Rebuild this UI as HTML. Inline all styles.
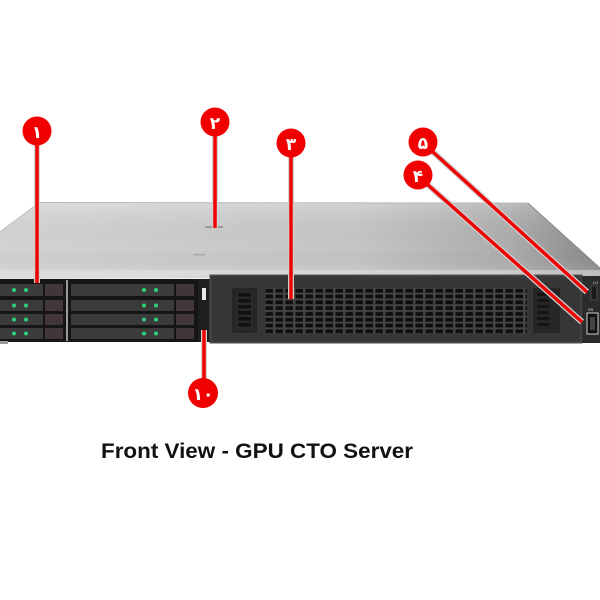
<!DOCTYPE html>
<html><head><meta charset="utf-8"><style>
html,body{margin:0;padding:0;background:#fff;}
svg{display:block;}
</style></head><body>
<svg width="600" height="600" viewBox="0 0 600 600" xmlns="http://www.w3.org/2000/svg">
<defs>
<linearGradient id="top" x1="0" y1="0" x2="1" y2="0">
<stop offset="0" stop-color="#dadada"/>
<stop offset="0.6" stop-color="#cbcbcb"/>
<stop offset="0.85" stop-color="#b2b2b2"/>
<stop offset="1" stop-color="#8e8e8e"/>
</linearGradient>
<linearGradient id="topv" x1="0" y1="0" x2="0" y2="1">
<stop offset="0" stop-color="#fff" stop-opacity="0.15"/>
<stop offset="0.6" stop-color="#000" stop-opacity="0.03"/>
<stop offset="1" stop-color="#fff" stop-opacity="0.2"/>
</linearGradient>
<pattern id="vent" x="265" y="288" width="10" height="5.8" patternUnits="userSpaceOnUse">
<rect x="0" y="0" width="10" height="5.8" fill="#444"/>
<rect x="0.5" y="0.8" width="7.5" height="3.8" fill="#0f0f0f"/>
</pattern>
<pattern id="slat" x="236" y="292" width="20" height="6" patternUnits="userSpaceOnUse">
<rect x="0" y="0" width="20" height="6" fill="#2a2a2a"/>
<rect x="2" y="1" width="13" height="3.5" fill="#111"/>
</pattern>
</defs>

<!-- top surface -->
<polygon points="40,202 528,203 600,268 600,277 0,279 0,232" fill="url(#top)"/>
<polygon points="40,202 528,203 600,268 600,277 0,279 0,232" fill="url(#topv)"/>
<line x1="0" y1="232" x2="40" y2="202" stroke="#bdbdbd" stroke-width="1"/>
<line x1="40" y1="202.5" x2="528" y2="203" stroke="#b8b8b8" stroke-width="1"/>
<line x1="528" y1="203" x2="600" y2="268" stroke="#8a8a8a" stroke-width="1"/>
<rect x="0" y="270" width="600" height="6" fill="#e2e2e2" opacity="0.5"/>
<rect x="205" y="226" width="18" height="2" fill="#9a9a9a"/>
<rect x="193" y="254" width="12" height="1.5" fill="#aaa"/>

<!-- drive bay area -->
<rect x="0" y="279" width="198" height="63" fill="#151515"/>
<g fill="#3b3b3b">
<rect x="0" y="284" width="43" height="12"/>
<rect x="0" y="300" width="43" height="11"/>
<rect x="0" y="314" width="43" height="11"/>
<rect x="0" y="328" width="43" height="11"/>
<rect x="71" y="284" width="103" height="12"/>
<rect x="71" y="300" width="103" height="11"/>
<rect x="71" y="314" width="103" height="11"/>
<rect x="71" y="328" width="103" height="11"/>
</g>
<g fill="#433638">
<rect x="45" y="284" width="18" height="12"/>
<rect x="45" y="300" width="18" height="11"/>
<rect x="45" y="314" width="18" height="11"/>
<rect x="45" y="328" width="18" height="11"/>
<rect x="176" y="284" width="18" height="12"/>
<rect x="176" y="300" width="18" height="11"/>
<rect x="176" y="314" width="18" height="11"/>
<rect x="176" y="328" width="18" height="11"/>
</g>
<rect x="66" y="280" width="2" height="61" fill="#9a9a9a"/>
<g fill="#2fd07a">
<circle cx="14" cy="290" r="2"/><circle cx="26" cy="290" r="2"/>
<circle cx="14" cy="305.5" r="2"/><circle cx="26" cy="305.5" r="2"/>
<circle cx="14" cy="319.5" r="2"/><circle cx="26" cy="319.5" r="2"/>
<circle cx="14" cy="333.5" r="2"/><circle cx="26" cy="333.5" r="2"/>
<circle cx="144" cy="290" r="2"/><circle cx="156" cy="290" r="2"/>
<circle cx="144" cy="305.5" r="2"/><circle cx="156" cy="305.5" r="2"/>
<circle cx="144" cy="319.5" r="2"/><circle cx="156" cy="319.5" r="2"/>
<circle cx="144" cy="333.5" r="2"/><circle cx="156" cy="333.5" r="2"/>
</g>
<rect x="0" y="341" width="8" height="3" fill="#999"/>

<!-- narrow panel -->
<rect x="198" y="279" width="12" height="63" fill="#1e1e1e"/>
<rect x="202" y="288" width="4" height="12" fill="#e8e8e8"/>

<!-- bezel -->
<rect x="210" y="275" width="372" height="68" fill="#3a3a3a"/>
<rect x="210" y="275" width="372" height="68" fill="none" stroke="#555" stroke-width="1"/>
<rect x="213" y="278" width="366" height="62" fill="#363636"/>
<rect x="265" y="288" width="262" height="46" fill="url(#vent)"/>
<rect x="232" y="288" width="25" height="45" fill="#262626"/>
<rect x="236" y="292" width="17" height="37" fill="url(#slat)"/>
<rect x="533" y="288" width="27" height="45" fill="#262626"/>
<g fill="#141414">
<rect x="537" y="293" width="12" height="3"/><rect x="537" y="299" width="12" height="3"/>
<rect x="537" y="305" width="12" height="3"/><rect x="537" y="311" width="12" height="3"/>
<rect x="537" y="317" width="12" height="3"/><rect x="537" y="323" width="12" height="3"/>
</g>

<!-- right port panel -->
<rect x="582" y="276" width="18" height="67" fill="#2b2b2b"/>
<rect x="591" y="286" width="6" height="14" fill="#1a1a1a" stroke="#555" stroke-width="0.8"/>
<rect x="587" y="313" width="11" height="21" fill="#111" stroke="#ccc" stroke-width="1"/>
<rect x="590" y="317" width="5" height="13" fill="#444"/>
<text x="593" y="284" font-family="Liberation Sans, sans-serif" font-size="4" fill="#ddd">LO</text>
<text x="588" y="311" font-family="Liberation Sans, sans-serif" font-size="4" fill="#ddd">SS</text>

<!-- callout lines -->
<g stroke-linecap="butt">
<g stroke="#d0d0d0" stroke-width="6">
<line x1="37" y1="145" x2="37" y2="283"/>
<line x1="215" y1="136" x2="215" y2="228"/>
<line x1="291" y1="157" x2="291" y2="299"/>
<line x1="204" y1="330" x2="204" y2="380"/>
<line x1="433" y1="152" x2="587" y2="292"/>
<line x1="428" y1="185" x2="582" y2="322"/>
</g>
<g stroke="#f00000" stroke-width="3.5">
<line x1="37" y1="145" x2="37" y2="283"/>
<line x1="215" y1="136" x2="215" y2="228"/>
<line x1="291" y1="157" x2="291" y2="299"/>
<line x1="204" y1="330" x2="204" y2="380"/>
<line x1="433" y1="152" x2="587" y2="292"/>
<line x1="428" y1="185" x2="582" y2="322"/>
</g>
</g>

<!-- callout circles -->
<g fill="#f00000">
<circle cx="37" cy="131" r="14.5"/>
<circle cx="215" cy="122" r="14.5"/>
<circle cx="291" cy="143" r="14.5"/>
<circle cx="423" cy="142" r="14.5"/>
<circle cx="418" cy="175" r="14.5"/>
<circle cx="203" cy="393" r="15"/>
</g>
<g fill="#fff" font-family="DejaVu Sans, sans-serif" font-weight="bold" font-size="17" text-anchor="middle">
<text x="37" y="138">۱</text>
<text x="215" y="129">۲</text>
<text x="291" y="150">۳</text>
<text x="423" y="149">۵</text>
<text x="418" y="182">۴</text>
<text x="203" y="400">۱۰</text>
</g>

<!-- caption -->
<text x="257" y="458" font-family="Liberation Sans, Arial, sans-serif" font-weight="bold" font-size="21.5" fill="#111" text-anchor="middle" textLength="312" lengthAdjust="spacingAndGlyphs">Front View - GPU CTO Server</text>
</svg>
</body></html>
